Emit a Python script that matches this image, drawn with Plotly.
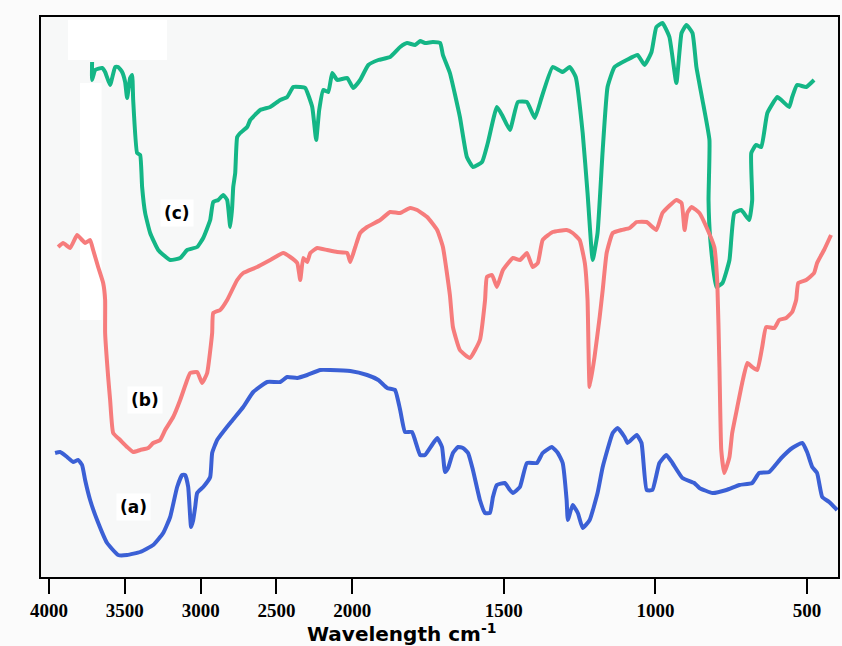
import plotly.graph_objects as go

# ---- data (wavenumber cm^-1, relative transmittance a.u.) ----
wn_c = [3716, 3716, 3696, 3650, 3630, 3597, 3564, 3544, 3518, 3498, 3485, 3465, 3452, 3445, 3419, 3399,
        3386, 3366, 3333, 3280, 3201, 3135, 3089, 3023, 2983, 2937, 2917, 2884, 2851, 2825, 2805, 2792,
        2785, 2772, 2759, 2739, 2693, 2673, 2607, 2541, 2475, 2429, 2389, 2343, 2310, 2264, 2238, 2218,
        2191, 2158, 2132, 2099, 2033, 1997, 1974, 1947, 1914, 1875, 1842, 1819, 1793, 1776, 1760, 1734,
        1710, 1701, 1678, 1645, 1622, 1602, 1572, 1553, 1523, 1506, 1480, 1454, 1424, 1398, 1375, 1339,
        1306, 1283, 1263, 1240, 1224, 1207, 1191, 1174, 1158, 1135, 1095, 1059, 1036, 1013, 997, 977,
        954, 931, 914, 898, 878, 865, 845, 822, 825, 819, 799, 779, 756, 740, 717, 691, 681, 684, 668,
        651, 631, 598, 585, 559, 549, 533, 503, 477]
t_c = [515, 497, 507, 509, 505, 492, 510, 510, 505, 495, 479, 499, 502, 477, 424, 422,
       390, 364, 344, 327, 317, 319, 327, 330, 339, 357, 375, 377, 382, 377, 350, 370,
       390, 404, 440, 444, 450, 457, 467, 470, 477, 480, 490, 490, 489, 470, 437, 467,
       487, 485, 504, 497, 499, 489, 497, 512, 517, 520, 530, 534, 532, 536, 534, 535,
       534, 522, 504, 460, 420, 410, 415, 434, 470, 462, 447, 475, 475, 459, 480, 510,
       505, 510, 500, 444, 384, 317, 344, 427, 490, 510, 517, 522, 512, 525, 550, 554,
       540, 494, 544, 552, 544, 510, 477, 437, 377, 337, 290, 294, 317, 364, 367, 357, 377, 424, 432,
       430, 464, 480, 477, 470, 480, 492, 490, 497]

wn_b = [3940, 3907, 3861, 3815, 3782, 3762, 3729, 3709, 3676, 3643, 3630, 3630, 3610, 3597, 3577, 3531,
        3485, 3445, 3399, 3346, 3313, 3267, 3234, 3181, 3135, 3089, 3069, 3023, 2990, 2957, 2924, 2917,
        2871, 2825, 2759, 2719, 2627, 2541, 2455, 2409, 2363, 2343, 2323, 2297, 2277, 2231, 2165, 2099,
        2033, 2013, 1990, 1974, 1951, 1908, 1875, 1842, 1809, 1786, 1753, 1720, 1701, 1678, 1668, 1645,
        1612, 1579, 1562, 1556, 1539, 1523, 1503, 1470, 1447, 1424, 1405, 1388, 1372, 1339, 1293, 1273,
        1250, 1233, 1224, 1217, 1201, 1184, 1174, 1161, 1141, 1112, 1085, 1062, 1029, 997, 977, 931,
        914, 904, 895, 881, 855, 832, 806, 796, 789, 783, 773, 756, 747, 730, 714, 697, 681, 664, 648,
        635, 608, 592, 569, 549, 536, 529, 503, 477, 467, 444, 421]
t_b = [330, 334, 329, 342, 337, 334, 337, 327, 310, 294, 277, 244, 200, 177, 144, 137,
       130, 125, 127, 129, 134, 137, 147, 160, 177, 197, 204, 205, 194, 204, 244, 264,
       267, 277, 297, 304, 310, 317, 324, 320, 314, 297, 319, 315, 324, 329, 327, 325,
       324, 315, 330, 344, 350, 357, 365, 364, 369, 367, 360, 347, 330, 282, 250, 227,
       219, 237, 277, 300, 302, 290, 307, 319, 317, 324, 310, 314, 337, 345, 347, 344,
       337, 314, 277, 190, 220, 260, 287, 324, 344, 347, 349, 355, 355, 347, 364, 377,
       374, 347, 364, 370, 364, 350, 330, 294, 210, 127, 104, 120, 144, 170, 194, 214, 210, 207, 230,
       250, 249, 257, 259, 265, 277, 294, 297, 304, 314, 327, 342]

wn_a = [3960, 3927, 3881, 3841, 3808, 3782, 3762, 3729, 3683, 3617, 3544, 3485, 3399, 3313, 3247, 3201,
        3155, 3122, 3102, 3082, 3063, 3049, 3036, 3023, 2983, 2937, 2924, 2891, 2805, 2719, 2653, 2561,
        2475, 2429, 2363, 2297, 2211, 2145, 2013, 1951, 1914, 1885, 1859, 1842, 1826, 1803, 1776, 1760,
        1737, 1720, 1704, 1694, 1684, 1668, 1651, 1635, 1618, 1602, 1579, 1562, 1546, 1536, 1523, 1497,
        1480, 1470, 1447, 1424, 1391, 1372, 1342, 1322, 1306, 1293, 1289, 1273, 1256, 1240, 1217, 1191,
        1174, 1141, 1125, 1102, 1092, 1062, 1046, 1029, 1010, 987, 964, 944, 911, 872, 855, 812,
        766, 723, 681, 658, 625, 585, 549, 516, 500, 483, 467, 450, 427, 401]
t_a = [124, 125, 120, 115, 117, 112, 97, 77, 57, 34, 22, 22, 25, 32, 44, 60,
       90, 102, 102, 90, 50, 57, 70, 84, 90, 100, 124, 137, 154, 170, 185, 195,
       195, 200, 199, 202, 207, 207, 206, 202, 197, 189, 187, 167, 145, 145, 122, 122,
       132, 139, 130, 105, 109, 124, 130, 129, 124, 107, 77, 64, 64, 80, 92, 94,
       87, 84, 90, 114, 114, 124, 130, 124, 114, 77, 57, 72, 64, 49, 57, 84,
       110, 144, 149, 140, 134, 142, 134, 87, 87, 114, 122, 114, 99, 94, 89, 84,
       87, 92, 94, 104, 105, 119, 129, 134, 125, 110, 104, 80, 75, 67]

tick_wn = [4000, 3500, 3000, 2500, 2000, 1500, 1000, 500]
tick_text = ["4000", "3500", "3000", "2500", "2000", "1500", "1000", "500"]
series_labels = ["(c)", "(b)", "(a)"]
label_wn = [3155, 3366, 3445]
label_t = [364, 177, 70]
colors = ["#14b686", "#f67c7c", "#3b60d5"]


def scale(w):
    # instrument abscissa: 2x expanded scale below 2000 cm^-1
    return (2000 - w) if w <= 2000 else -(w - 2000) / 2


fig = go.Figure()
for wn, t, c in [(wn_c, t_c, colors[0]), (wn_b, t_b, colors[1]), (wn_a, t_a, colors[2])]:
    fig.add_trace(go.Scatter(x=[scale(w) for w in wn], y=t, mode="lines",
                             line=dict(color=c, width=4, shape="spline", smoothing=0.4),
                             showlegend=False, hoverinfo="skip"))

for lab, w, t in zip(series_labels, label_wn, label_t):
    fig.add_annotation(x=scale(w), y=t, text=lab, showarrow=False,
                       font=dict(family="DejaVu Sans", size=17, color="black", weight="bold"),
                       bgcolor="white", borderpad=3)

fig.add_annotation(xref="paper", yref="paper", x=0.452, y=-0.1, yanchor="middle",
                   text="Wavelength cm<sup>-1</sup>", showarrow=False,
                   font=dict(family="DejaVu Sans", size=20, color="black", weight="bold"))

# white paper patches
fig.add_shape(type="rect", xref="paper", yref="paper", x0=0.034, x1=0.158, y0=0.923, y1=0.995,
              fillcolor="white", line_width=0, layer="below")
fig.add_shape(type="rect", xref="paper", yref="paper", x0=0.049, x1=0.076, y0=0.459, y1=0.882,
              fillcolor="white", line_width=0, layer="below")

fig.update_xaxes(range=[scale(4053), scale(398)], tickmode="array",
                 tickvals=[scale(w) for w in tick_wn], ticktext=tick_text,
                 ticks="outside", ticklen=15, tickwidth=2, tickcolor="black",
                 tickfont=dict(family="Liberation Serif", size=19, color="black", weight="bold"),
                 showline=True, linecolor="black", linewidth=2, mirror=True,
                 showgrid=False, zeroline=False)
fig.update_yaxes(range=[0, 560], showticklabels=False, ticks="", showline=True,
                 linecolor="black", linewidth=2, mirror=True, showgrid=False, zeroline=False)

fig.update_layout(width=842, height=646, margin=dict(l=41, r=2, t=17, b=69),
                  paper_bgcolor="#fbfbfb", plot_bgcolor="#f7f8f8")

fig.write_html("out.html", config={"displayModeBar": False, "staticPlot": True},
               post_script="document.body.style.margin='0px';document.body.style.overflow='hidden';")
